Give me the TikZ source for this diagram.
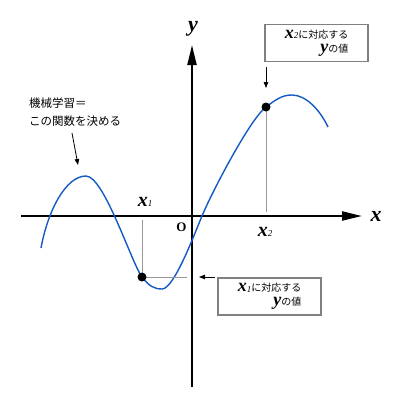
\documentclass[tikz,border=0pt]{standalone}
\usepackage{fontspec}
\newfontfamily\jpfont{Noto Sans CJK JP}
\newfontfamily\tmsfont{Liberation Serif}
\usetikzlibrary{arrows.meta}
\definecolor{curveblue}{RGB}{20,90,195}
\newcommand{\mvar}[2]{{\tmsfont\fontsize{#2}{#2}\selectfont\bfseries\itshape #1}}
\newcommand{\msub}[1]{{\tmsfont\fontsize{9}{9}\selectfont\itshape\raisebox{-0.5pt}{#1}}}
\begin{document}
\begin{tikzpicture}[x=1pt,y=-1pt,
  axis/.style={line width=2.3pt,-{Triangle[length=20pt,width=9pt]}},
  guide/.style={draw=black!40,line width=0.8pt},
  curvestyle/.style={draw=curveblue,line width=1.4pt},
  note/.style={-{Triangle[length=6pt,width=4.5pt]},line width=0.8pt},
  callout/.style={draw=black!50,line width=1.2pt,align=right,inner sep=2pt,
    minimum width=103pt,minimum height=37pt,font=\jpfont\fontsize{10}{14}\selectfont},
  dot/.style={circle,fill=black,inner sep=0pt,minimum size=9pt},
  lbl/.style={inner sep=0pt}]
\useasboundingbox (0,0) rectangle (400,400);
% axes
\coordinate (xs) at (21,216);
\coordinate (xe) at (362,216);
\coordinate (ys) at (192,387);
\coordinate (ye) at (192,45);
\draw[axis] (xs) -- (xe);
\draw[axis] (ys) -- (ye);
\node[lbl] (xlab) at (376,216) {\mvar{x}{22}};
\node[lbl] (ylab) at (193,29) {\mvar{y}{22}};
\node[lbl] (orig) at (181.5,227.5) {{\tmsfont\fontsize{13}{13}\selectfont\bfseries O}};
% points
\coordinate (P1) at (142,277);
\coordinate (P2) at (266,107);
% curve
\draw[curvestyle] (41,248) .. controls (48,210) and (66,176) .. (86,176)
  .. controls (104,176) and (132,264) .. (P1)
  .. controls (149,286) and (154,289) .. (162,289)
  .. controls (174,289) and (194,235) .. (202,216)
  .. controls (212,192) and (250,119) .. (P2)
  .. controls (276,99.5) and (282,95) .. (292,95)
  .. controls (306,95) and (320,110) .. (328,127);
% guides
\coordinate (g1t) at (142,220);
\coordinate (g1r) at (187,277);
\coordinate (g2b) at (266,212);
\draw[guide] (g1t) -- (P1) -- (g1r);
\draw[guide] (P2) -- (g2b);
\node[dot] (p1) at (P1) {};
\node[dot] (p2) at (P2) {};
\node[lbl] (x1lab) at (145,202) {\mvar{x}{20}\msub{1}};
\node[lbl] (x2lab) at (265,232) {\mvar{x}{20}\msub{2}};
% callout boxes
\node[callout] (b1) at (269.5,296.5) {\mvar{x}{18}\msub{1}に対応する\\\mvar{y}{18}の値};
\node[callout] (b2) at (316.5,43) {\mvar{x}{18}\msub{2}に対応する\\\mvar{y}{18}の値};
\coordinate (a1s) at (215,277);
\coordinate (a1e) at (199,277);
\draw[note] (a1s) -- (a1e);
\coordinate (a2s) at (266,67);
\coordinate (a2e) at (266,88);
\draw[note] (a2s) -- (a2e);
% left note
\node[lbl,anchor=west,align=left,font=\jpfont\fontsize{11.5}{18}\selectfont] (ml) at (29,112) {機械学習＝\\この関数を決める};
\coordinate (a3s) at (72,133);
\coordinate (a3e) at (78,165);
\draw[note] (a3s) -- (a3e);
\end{tikzpicture}
\end{document}
